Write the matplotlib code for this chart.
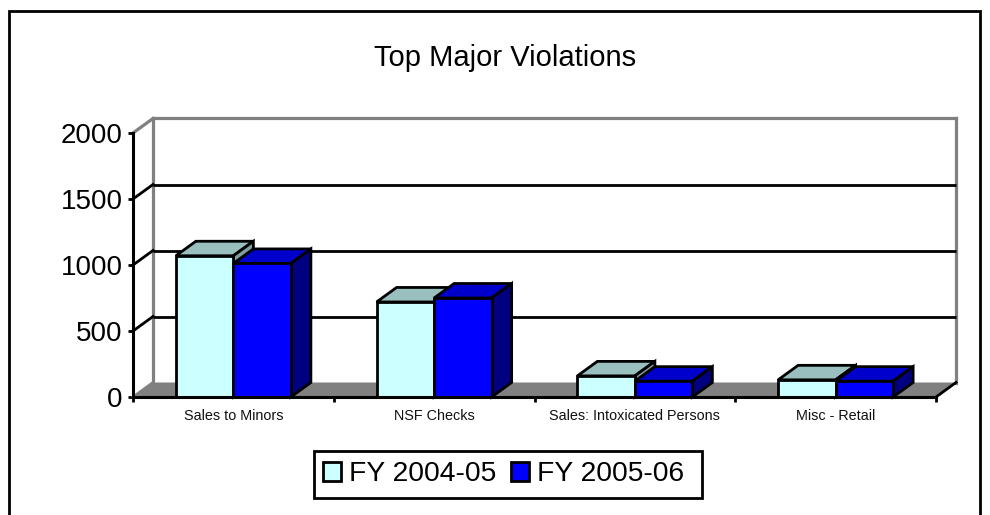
import matplotlib
matplotlib.use("Agg")
import matplotlib.pyplot as plt
from matplotlib.patches import Patch, Polygon, Rectangle

plt.rcParams['font.family'] = ['Liberation Sans', 'DejaVu Sans']

categories = ['Sales to Minors', 'NSF Checks', 'Sales: Intoxicated Persons', 'Misc - Retail']
fy_0405 = [1070, 720, 160, 130]
fy_0506 = [1012, 750, 120, 120]
y_ticks = [0, 500, 1000, 1500, 2000]
series_names = ['FY 2004-05', 'FY 2005-06']

W, H = 990, 515
fig = plt.figure(figsize=(W / 100, H / 100), dpi=100)
fig.patch.set_facecolor('white')
# axes = the front plane of the fake 3d box
left, right, top, bottom = 133, 936, 133, 397
ax = fig.add_axes([left / W, 1 - bottom / H, (right - left) / W, (bottom - top) / H])
ax.set_xlim(0, 4)
ax.set_ylim(0, 2000)
ax.patch.set_visible(False)

# depth of the box in data units (20px across, 14.5px up)
dx = 20 / (right - left) * 4
dy = 14.5 / (bottom - top) * 2000
bar_w = 57.5 / (right - left) * 4
GRAY = '#808080'
LW = 2.0

# outer frame, runs off the bottom of the image
fig.add_artist(Rectangle((9 / W, -0.02), 971 / W, 1.02 - 10.5 / H, transform=fig.transFigure,
                         fill=False, ec='black', lw=LW))

# floor
ax.add_patch(Polygon([(0, 0), (4, 0), (4 + dx, dy), (dx, dy)], closed=True, fc=GRAY, ec='none',
                     clip_on=False, zorder=1))
# back wall and grid
ax.plot([dx, dx], [dy, 2000 + dy], color=GRAY, lw=LW + 0.3, clip_on=False, zorder=1.5)
ax.plot([4 + dx, 4 + dx], [dy, 2000 + dy], color=GRAY, lw=LW + 0.3, clip_on=False, zorder=1.5)
ax.plot([dx, 4 + dx], [2000 + dy, 2000 + dy], color=GRAY, lw=LW + 0.3, clip_on=False, zorder=1.5)
ax.plot([0, dx], [2000, 2000 + dy], color=GRAY, lw=LW + 0.3, clip_on=False, zorder=1.5)
for v in y_ticks[1:-1]:
    ax.plot([dx, 4 + dx], [v + dy, v + dy], color='black', lw=LW, clip_on=False, zorder=1.6,
            solid_capstyle='butt')
    ax.plot([0, dx], [v, v + dy], color='black', lw=LW, clip_on=False, zorder=1.6)
ax.plot([4, 4 + dx], [0, dy], color='black', lw=LW, clip_on=False, zorder=1.6)
ax.plot([0, dx], [0, dy], color=GRAY, lw=LW, clip_on=False, zorder=1.6)


def bar3d(x0, val, front, topc, side, z):
    ax.bar(x0, val, width=bar_w, align='edge', color=front, edgecolor='black', linewidth=LW,
           clip_on=False, zorder=z + 0.2)
    x1 = x0 + bar_w
    ax.add_patch(Polygon([(x0, val), (x1, val), (x1 + dx, val + dy), (x0 + dx, val + dy)], closed=True,
                         fc=topc, ec='black', lw=LW, clip_on=False, zorder=z))
    ax.add_patch(Polygon([(x1, 0), (x1 + dx, dy), (x1 + dx, val + dy), (x1, val)], closed=True,
                         fc=side, ec='black', lw=LW, clip_on=False, zorder=z))


for i in range(len(categories)):
    # the light bar is drawn behind the blue one, only its edge shows
    bar3d(i + 0.5 - bar_w, fy_0405[i], '#CCFFFF', '#99BFBF', '#80A0A0', 3)
    bar3d(i + 0.5, fy_0506[i], '#0000FF', '#0000CC', '#000080', 4)

ax.set_yticks(y_ticks)
ax.set_xticks(range(5))
ax.set_xticklabels([])
ax.set_xticks([i + 0.5 for i in range(4)], minor=True)
ax.set_xticklabels(categories, minor=True, fontsize=10.4, color='#111111')
ax.tick_params(axis='x', which='minor', length=0, pad=9)
ax.tick_params(axis='x', which='major', length=3.6, width=LW, direction='out')
ax.tick_params(axis='y', length=3.6, width=LW, labelsize=20, pad=4)
for s in ['top', 'right']:
    ax.spines[s].set_visible(False)
for s in ['left', 'bottom']:
    ax.spines[s].set_linewidth(LW + 0.2)
    ax.spines[s].set_zorder(5)

fig.text(505.5 / W, 1 - 58.5 / H, 'Top Major Violations', ha='center', va='center', fontsize=21)

# legend frame drawn apart, its padding is wider on the right than on the left
fig.add_artist(Rectangle((313.5 / W, 1 - 498 / H), 388.5 / W, 47 / H, transform=fig.transFigure,
                         fc='white', ec='black', lw=LW))
handles = [Patch(fc='#CCFFFF', ec='black', lw=LW), Patch(fc='#0000FF', ec='black', lw=LW)]
leg = fig.legend(handles, series_names, loc='center left', bbox_to_anchor=(323 / W, 1 - 474 / H), ncol=2,
                 fontsize=20.3, frameon=False, handlelength=0.65, handleheight=0.65,
                 handletextpad=0.28, columnspacing=0.5, borderpad=0, borderaxespad=0)
leg.set_zorder(10)

fig.savefig('out.png', dpi=100)
